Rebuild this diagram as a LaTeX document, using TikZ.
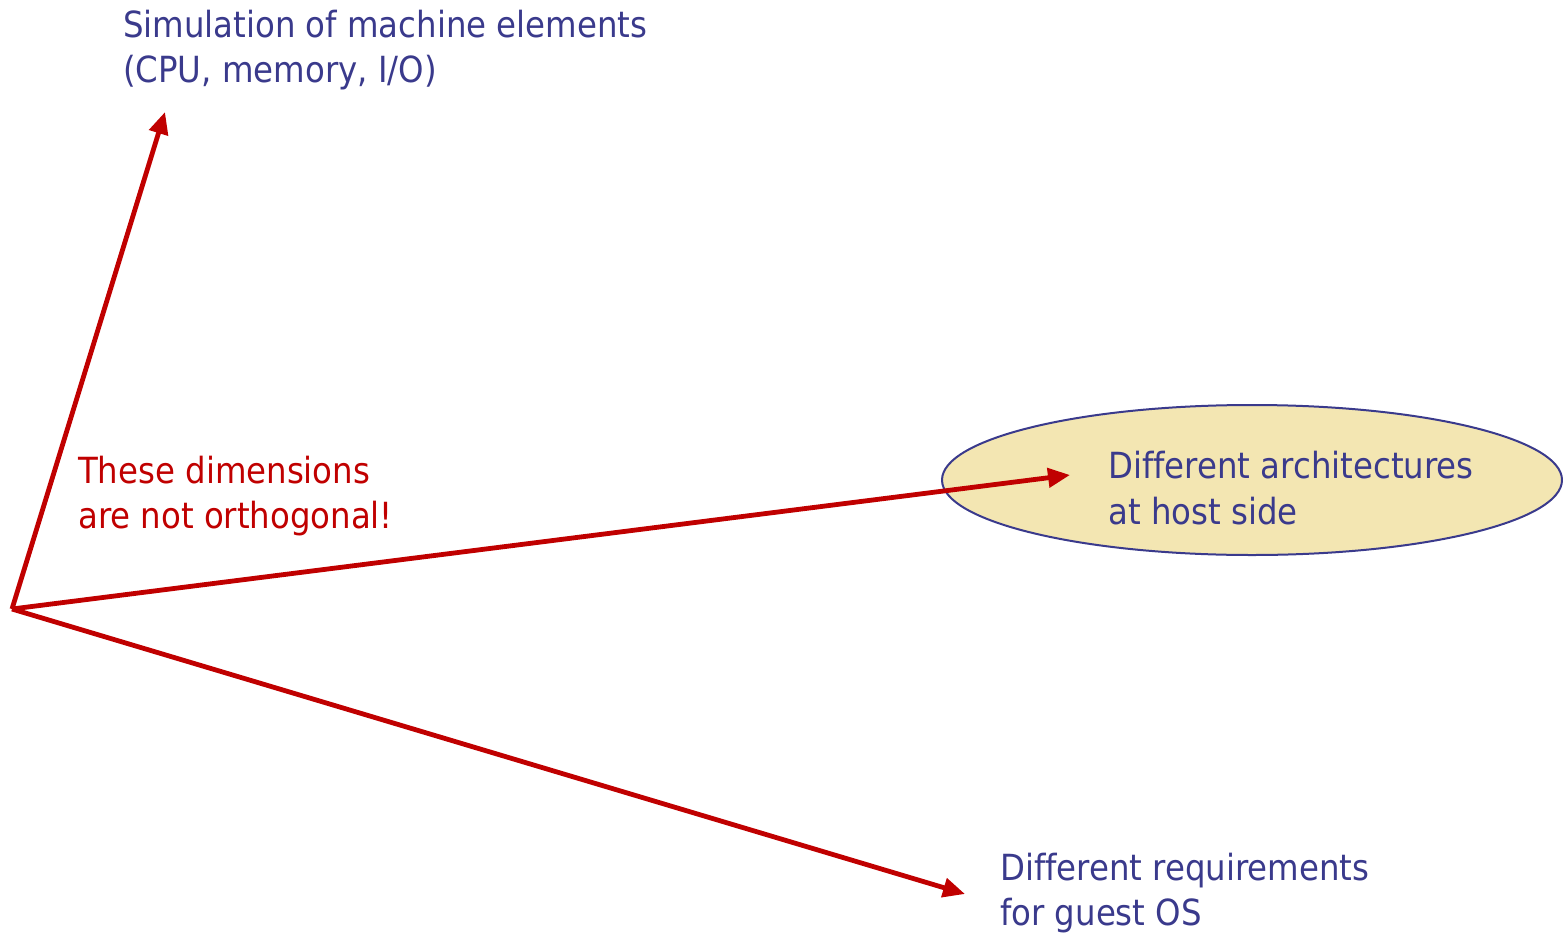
\documentclass[tikz,border=0pt]{standalone}
\usepackage{fontspec}
\setmainfont[Ligatures=NoCommon]{DejaVu Sans Condensed}
\usetikzlibrary{arrows.meta,shapes.geometric}
\definecolor{txtblue}{RGB}{58,58,140}
\definecolor{arrred}{RGB}{192,0,0}
\definecolor{ellfill}{RGB}{243,230,178}
\tikzset{
  axis/.style={draw=arrred, line width=4.8pt, -{Triangle[length=22pt,width=19pt]}},
  lbl/.style={anchor=west, align=left, inner sep=0pt, text=txtblue, font=\fontsize{36}{45.5}\selectfont},
  note/.style={lbl, text=arrred}
}
\begin{document}
\begin{tikzpicture}[x=1pt,y=-1pt]
\useasboundingbox (0,0) rectangle (1563,934);
\node[ellipse, draw=txtblue, line width=2pt, fill=ellfill, minimum width=620pt, minimum height=150pt, inner sep=0pt] (ell) at (1252,480) {};
\coordinate (O) at (12,609);
\coordinate (top) at (165,112);
\coordinate (mid) at (1070,475);
\coordinate (bot) at (965,894);
\draw[axis] (O) -- (top);
\draw[axis] (O) -- (mid);
\draw[axis] (O) -- (bot);
\node[lbl] (sim) at (123,50) {Simulation of machine elements\\(CPU, memory, I/O)};
\node[note] (note) at (78,496) {These dimensions\\are not orthogonal!};
\node[lbl] (arch) at (1108,488) {Different architectures\\at host side};
\node[lbl] (req) at (1000,893) {Different requirements\\for guest OS};
\end{tikzpicture}
\end{document}
